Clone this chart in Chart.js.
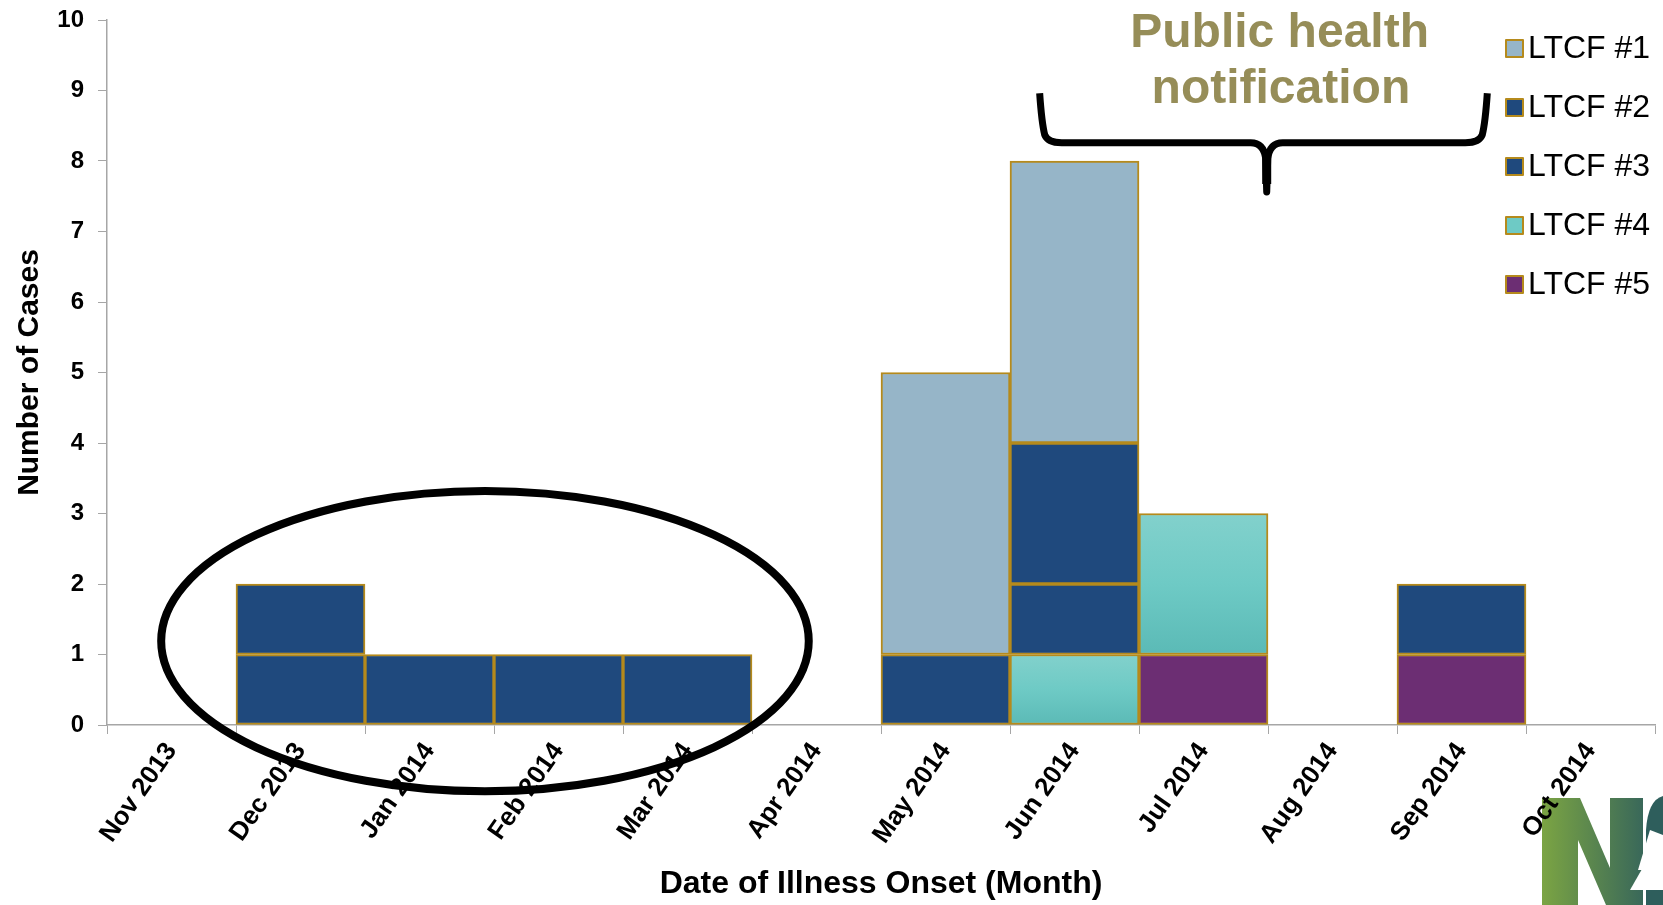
<!DOCTYPE html>
<html>
<head>
<meta charset="utf-8">
<script src="https://cdn.jsdelivr.net/npm/chart.js@4.4.1/dist/chart.umd.min.js"></script>
<style>
  body { margin: 0; background: #fff; }
  #wrap { position: relative; width: 1663px; height: 905px; }
</style>
</head>
<body>
<div id="wrap"><canvas id="epiCurve"></canvas></div>
<script>
const months = ['Nov 2013', 'Dec 2013', 'Jan 2014', 'Feb 2014', 'Mar 2014', 'Apr 2014',
                'May 2014', 'Jun 2014', 'Jul 2014', 'Aug 2014', 'Sep 2014', 'Oct 2014'];
const facilities = ['LTCF #1', 'LTCF #2', 'LTCF #3', 'LTCF #4', 'LTCF #5'];
const ltcf1 = [null, null, null, null, null, null, 4, 4, null, null, null, null];
const ltcf2 = [null, 1, null, null, null, null, null, 2, null, null, null, null];
const ltcf3 = [null, 1, 1, 1, 1, null, 1, 1, null, null, 1, null];
const ltcf4 = [null, null, null, null, null, null, null, 1, 2, null, null, null];
const ltcf5 = [null, null, null, null, null, null, null, null, 1, null, 1, null];
const yTicks = [0, 1, 2, 3, 4, 5, 6, 7, 8, 9, 10];
const colors = ['#96B5C8', '#1F497D', '#1F497D', '#6ECAC5', '#6C2E73'];
const edge = '#B58A1C';
const FONT = 'Arial, "Liberation Sans", sans-serif';

const series = [ltcf1, ltcf2, ltcf3, ltcf4, ltcf5];

// teal boxes are shaded light at the top, darker at the bottom
function tealFill(context) {
    const chart = context.chart;
    const ys = chart.scales.y;
    if (context.type !== 'data' || !ys || ys.top === undefined) return colors[3];
    const i = context.dataIndex;
    const base = ltcf5[i] || 0;
    const top = base + (ltcf4[i] || 0);
    const y0 = ys.getPixelForValue(top), y1 = ys.getPixelForValue(base);
    if (!isFinite(y0) || !isFinite(y1) || y0 === y1) return colors[3];
    const g = chart.ctx.createLinearGradient(0, y0, 0, y1);
    g.addColorStop(0, '#82D1CC');
    g.addColorStop(0.5, '#6ECAC5');
    g.addColorStop(1, '#5BBAB6');
    return g;
}

const annotations = {
    id: 'annotations',
    beforeDraw(chart) {
        // partial logo in the bottom right corner
        const ctx = chart.ctx;
        ctx.save();
        const g = ctx.createLinearGradient(1542, 0, 1663, 0);
        g.addColorStop(0, '#7BA443');
        g.addColorStop(1, '#2C5C5E');
        ctx.fillStyle = g;
        ctx.beginPath();
        ctx.moveTo(1542, 798); ctx.lineTo(1580, 798); ctx.lineTo(1610, 868);
        ctx.lineTo(1610, 798); ctx.lineTo(1643, 798); ctx.lineTo(1643, 905);
        ctx.lineTo(1606, 905); ctx.lineTo(1578, 840); ctx.lineTo(1578, 905);
        ctx.lineTo(1542, 905); ctx.closePath();
        ctx.fill();
        ctx.fillStyle = '#2E5E5C';
        ctx.beginPath();
        ctx.moveTo(1646, 905); ctx.lineTo(1646, 830);
        ctx.quadraticCurveTo(1648, 800, 1663, 796); ctx.lineTo(1663, 905);
        ctx.closePath();
        ctx.fill();
        ctx.fillStyle = '#ffffff';
        ctx.beginPath();
        ctx.moveTo(1650, 830); ctx.lineTo(1638, 870); ctx.lineTo(1663, 870); ctx.lineTo(1663, 835);
        ctx.closePath();
        ctx.fill();
        ctx.beginPath();
        ctx.moveTo(1650, 855); ctx.lineTo(1630, 890); ctx.lineTo(1663, 890); ctx.lineTo(1663, 860);
        ctx.closePath();
        ctx.fill();
        ctx.restore();
    },
    afterDraw(chart) {
        const ctx = chart.ctx;
        const xs = chart.scales.x, ys = chart.scales.y;
        const X = v => xs.getPixelForValue(v);
        const Y = v => ys.getPixelForValue(v);
        ctx.save();

        // ellipse around the early cases
        const cx = X(2.43), cy = Y(1.19);
        ctx.strokeStyle = '#000';
        ctx.lineWidth = 8;
        ctx.beginPath();
        ctx.ellipse(cx, cy, X(4.94) - cx, cy - Y(3.32), 0, 0, Math.PI * 2);
        ctx.stroke();

        // brace
        const L = X(6.73), R = X(10.2), M = X(8.49);
        const top = Y(8.96), mid = Y(8.26), tip = Y(7.56);
        ctx.lineWidth = 7;
        ctx.lineJoin = 'round';
        ctx.lineCap = 'butt';
        ctx.beginPath();
        ctx.moveTo(L, top);
        ctx.quadraticCurveTo(L + 2, mid - 20, L + 5, mid - 8);
        ctx.quadraticCurveTo(L + 8, mid, L + 22, mid);
        ctx.lineTo(M - 16, mid);
        ctx.quadraticCurveTo(M - 3, mid, M - 1, mid + 16);
        ctx.lineTo(M, tip);
        ctx.lineTo(M + 1, mid + 16);
        ctx.quadraticCurveTo(M + 3, mid, M + 16, mid);
        ctx.lineTo(R - 22, mid);
        ctx.quadraticCurveTo(R - 8, mid, R - 5, mid - 8);
        ctx.quadraticCurveTo(R - 2, mid - 20, R, top);
        ctx.stroke();
        ctx.lineWidth = 9;
        ctx.beginPath();
        ctx.moveTo(M, mid + 8);
        ctx.lineTo(M, tip - 8);
        ctx.stroke();

        ctx.fillStyle = '#968D58';
        ctx.font = 'bold 48px ' + FONT;
        ctx.textAlign = 'center';
        ctx.textBaseline = 'alphabetic';
        ctx.fillText('Public health', X(8.59), Y(9.62));
        ctx.fillText('notification', X(8.6), Y(8.82));

        // legend inside the plot area
        const area = chart.chartArea;
        ctx.font = '32px ' + FONT;
        ctx.textAlign = 'left';
        ctx.textBaseline = 'middle';
        chart.data.datasets.forEach((ds, i) => {
            const yc = area.top + 28 + i * 59;
            const sx = area.right - 149;
            ctx.fillStyle = colors[i];
            ctx.fillRect(sx, yc - 8, 17, 17);
            ctx.strokeStyle = edge;
            ctx.lineWidth = 2;
            ctx.strokeRect(sx, yc - 8, 17, 17);
            ctx.fillStyle = '#000';
            ctx.fillText(ds.label, sx + 22, yc + 1);
        });
        ctx.restore();
    }
};

const data = {
    labels: months,
    datasets: facilities.map((name, i) => ({
        label: name,
        data: series[i],
        backgroundColor: i === 3 ? tealFill : colors[i],
        borderColor: edge,
        borderWidth: 2,
        borderSkipped: false,
        barPercentage: 1,
        categoryPercentage: 1,
        order: facilities.length - 1 - i
    }))
};

const config = {
    type: 'bar',
    data: data,
    options: {
        responsive: true,
        maintainAspectRatio: false,
        animation: false,
        layout: { padding: { top: 20, right: 8, left: 0, bottom: 0 } },
        plugins: {
            legend: { display: false },
            tooltip: { enabled: false }
        },
        scales: {
            x: {
                stacked: true,
                grid: { drawOnChartArea: false, drawTicks: true, tickLength: 9, color: '#A6A6A6', offset: true },
                border: { color: '#A6A6A6', width: 1.5 },
                ticks: {
                    color: '#000',
                    font: { family: FONT, size: 26, weight: 'bold' },
                    minRotation: 55,
                    maxRotation: 55,
                    autoSkip: false,
                    padding: 3
                },
                title: {
                    display: true,
                    text: 'Date of Illness Onset (Month)',
                    color: '#000',
                    font: { family: FONT, size: 32, weight: 'bold' },
                    padding: { top: 0, bottom: 2 }
                },
                afterFit(scale) { scale.height = 180; }
            },
            y: {
                stacked: true,
                min: 0,
                max: 10,
                afterBuildTicks(scale) { scale.ticks = yTicks.map(v => ({ value: v })); },
                grid: { drawOnChartArea: false, drawTicks: true, tickLength: 9, color: '#A6A6A6' },
                border: { color: '#A6A6A6', width: 1.5 },
                ticks: {
                    color: '#000',
                    font: { family: FONT, size: 24, weight: 'bold' },
                    padding: 14
                },
                title: {
                    display: true,
                    text: 'Number of Cases',
                    color: '#000',
                    font: { family: FONT, size: 30, weight: 'bold' },
                    padding: { top: 12, bottom: 0 }
                },
                afterFit(scale) {
                    scale.width = 107;
                    scale.paddingTop = 0;
                    scale.paddingBottom = 0;
                }
            }
        }
    },
    plugins: [annotations]
};

new Chart(document.getElementById('epiCurve'), config);
</script>
</body>
</html>
